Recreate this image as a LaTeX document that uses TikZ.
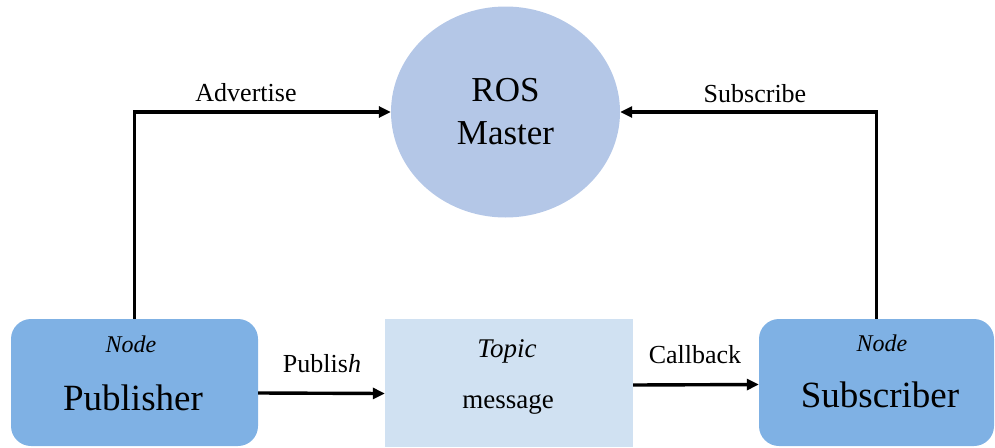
\documentclass[tikz,border=0pt]{standalone}
\usepackage{fontspec}
\setmainfont{Liberation Serif}
\usetikzlibrary{arrows.meta,shapes.geometric}
\begin{document}
\begin{tikzpicture}[x=1pt, y=-1pt, >={Triangle[length=12pt, width=11pt]},
    nodebox/.style={fill=nodeBlue, rounded corners=20pt, minimum width=247pt, minimum height=127pt, inner sep=0pt},
    link/.style={->, line width=3.4pt},
    label/.style={anchor=base, font=\fontsize{26}{30}\selectfont},
    tag/.style={anchor=base, font=\fontsize{24}{28}\selectfont\itshape}]
    % --- CONFIGURATION ---
    \definecolor{nodeBlue}{RGB}{127, 177, 228}     % Noeuds
    \definecolor{masterBlue}{RGB}{180, 199, 231}   % Master
    \definecolor{topicBlue}{RGB}{208, 225, 242}    % Topic

    \useasboundingbox (0,0) rectangle (995,447);

    % ROS Master
    \node[ellipse, fill=masterBlue, minimum width=229pt, minimum height=211pt, inner sep=0pt,
          align=center, font=\fontsize{35}{43}\selectfont] (master) at (505.5,112) {ROS\\Master};

    % Boites du bas
    \node[nodebox] (pub) at (134.5,382.5) {};
    \node[nodebox, minimum width=235pt] (sub) at (876.5,382.5) {};
    \node[fill=topicBlue, minimum width=248pt, minimum height=128pt, inner sep=0pt] (topic) at (509,383) {};

    % Textes des boites
    \node[tag] (pubtag) at (131,352) {Node};
    \node[anchor=base, font=\fontsize{37}{40}\selectfont] (pubname) at (133,410) {Publisher};
    \node[tag] (subtag) at (882,351) {Node};
    \node[anchor=base, font=\fontsize{37}{40}\selectfont] (subname) at (880,407) {Subscriber};
    \node[tag, font=\fontsize{27}{30}\selectfont\itshape] (topictag) at (507,357) {Topic};
    \node[label, font=\fontsize{27}{30}\selectfont] (msg) at (508,408) {message};

    % Fleches
    \draw[link] (pub.north) |- (master.west);
    \draw[link] (sub.north) |- (master.east);
    \draw[link] ([yshift=-10.5pt]pub.east) -- ([yshift=-10.5pt]topic.west);
    \draw[link] ([yshift=-2pt]topic.east) -- ([yshift=-2pt]sub.west);

    % Etiquettes
    \node[label] (advertise) at (246,101) {Advertise};
    \node[label] (subscribe) at (755,102) {Subscribe};
    \node[label] (publish) at (322,372) {Publis\textit{h}};
    \node[label] (callback) at (695,363) {Callback};
\end{tikzpicture}
\end{document}
